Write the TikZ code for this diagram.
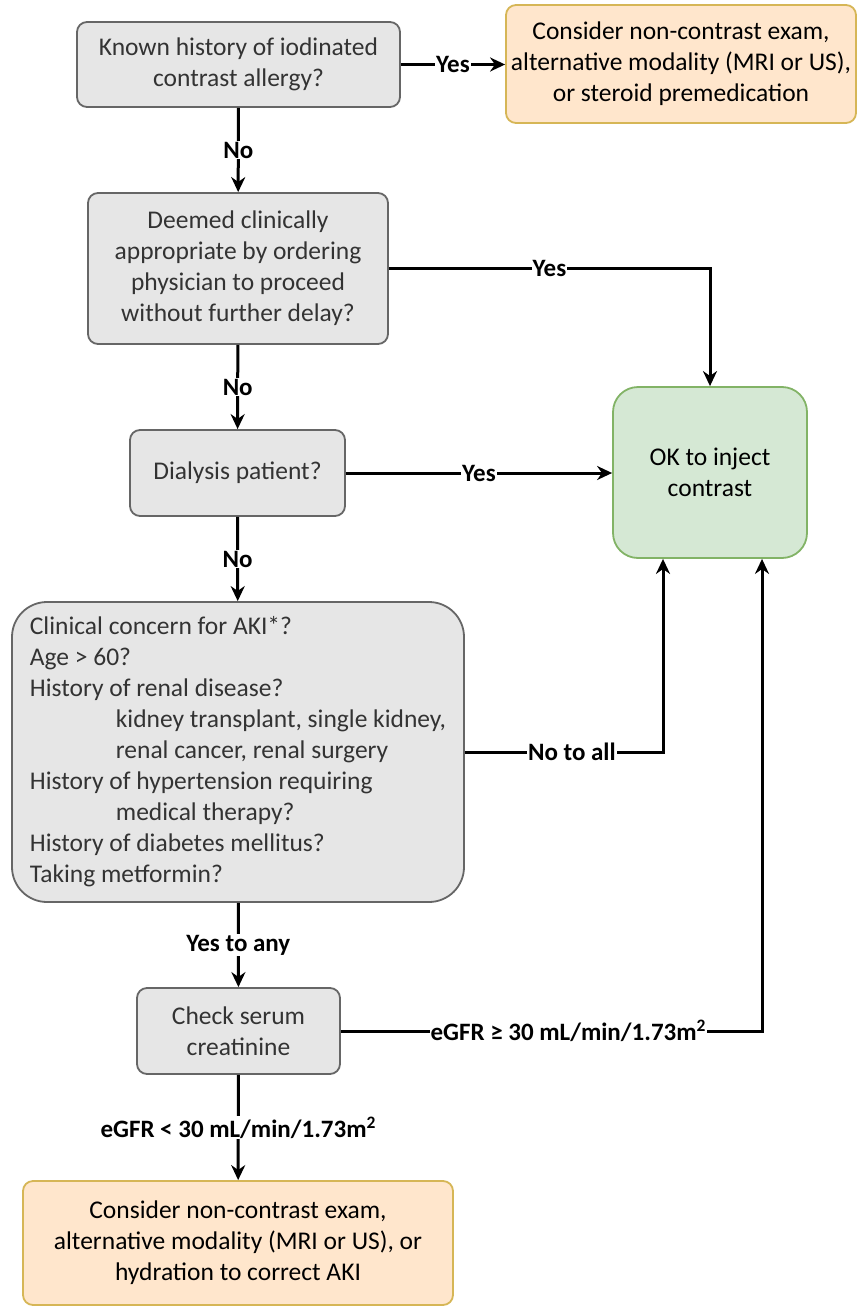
\documentclass[tikz,border=0pt]{standalone}
\usepackage{fontspec}
\setmainfont{Carlito}
\usetikzlibrary{arrows.meta}
\definecolor{gfill}{HTML}{E6E6E6}
\definecolor{gdraw}{HTML}{666666}
\definecolor{ofill}{HTML}{FFE6CC}
\definecolor{odraw}{HTML}{D6B656}
\definecolor{kfill}{HTML}{D5E8D4}
\definecolor{kdraw}{HTML}{82B366}
\definecolor{gtext}{HTML}{333333}
\begin{document}
\begin{tikzpicture}[x=1pt,y=-1pt,
  box/.style={rounded corners=10pt, line width=1.8pt, align=center, inner sep=0pt,
    font=\fontsize{25.5}{31}\selectfont},
  gbox/.style={box, draw=gdraw, fill=gfill, text=gtext},
  obox/.style={box, draw=odraw, fill=ofill, text=black},
  kbox/.style={box, draw=kdraw, fill=kfill, text=black, rounded corners=25pt},
  arr/.style={line width=3pt, -{Stealth[length=15pt,width=14pt]}},
  lbl/.style={fill=white, inner sep=1pt, font=\bfseries\fontsize{25}{28}\selectfont}
]
\useasboundingbox (0,0) rectangle (860,1308);

\node[gbox, minimum width=323pt, minimum height=85pt] (b1) at (238.5,64.5)
  {Known history of iodinated\\contrast allergy?};
\node[obox, minimum width=350pt, minimum height=118pt] (o1) at (681,64)
  {Consider non-contrast exam,\\alternative modality (MRI or US),\\or steroid premedication};
\node[gbox, minimum width=300pt, minimum height=151pt] (b2) at (238,268.5)
  {Deemed clinically\\appropriate by ordering\\physician to proceed\\without further delay?};
\node[gbox, minimum width=215pt, minimum height=86pt] (b3) at (237.5,473)
  {Dialysis patient?};
\node[kbox, minimum width=194pt, minimum height=171pt] (ok) at (710,472.5)
  {OK to inject\\contrast};
\node[gbox, rounded corners=35pt, minimum width=452pt, minimum height=300pt, align=left,
  font=\fontsize{25.5}{31}\selectfont] (b4) at (238,752)
  {Clinical concern for AKI*?\\
   Age > 60?\\
   History of renal disease?\\
   \hspace*{86pt}kidney transplant, single kidney,\\
   \hspace*{86pt}renal cancer, renal surgery\\
   History of hypertension requiring\\
   \hspace*{86pt}medical therapy?\\
   History of diabetes mellitus?\\
   Taking metformin?};
\node[gbox, minimum width=203pt, minimum height=86pt] (b5) at (238.5,1031)
  {Check serum\\creatinine};
\node[obox, minimum width=430pt, minimum height=124pt] (o2) at (238,1243)
  {Consider non-contrast exam,\\alternative modality (MRI or US), or\\hydration to correct AKI};

\draw[arr] (b1.east) -- node[lbl]{Yes} (o1.west |- b1.east);
\draw[arr] (b1) -- node[lbl]{No} (b2);
\draw[arr] (b2.east) -| node[lbl, pos=0.25]{Yes} (ok.north);
\draw[arr] (b2) -- node[lbl]{No} (b3);
\draw[arr] (b3.east) -- node[lbl]{Yes} (ok.west |- b3.east);
\draw[arr] (b3) -- node[lbl]{No} (b4);
\draw[arr] (b4.east) -| node[lbl, pos=0.27]{No to all} ([xshift=-47pt]ok.south);
\draw[arr] (b4) -- node[lbl]{Yes to any} (b5);
\draw[arr] (b5.east) -| node[lbl, pos=0.27]{eGFR ≥ 30 mL/min/1.73m\textsuperscript{2}} ([xshift=52pt]ok.south);
\draw[arr] (b5) -- node[lbl]{eGFR < 30 mL/min/1.73m\textsuperscript{2}} (o2);
\end{tikzpicture}
\end{document}
